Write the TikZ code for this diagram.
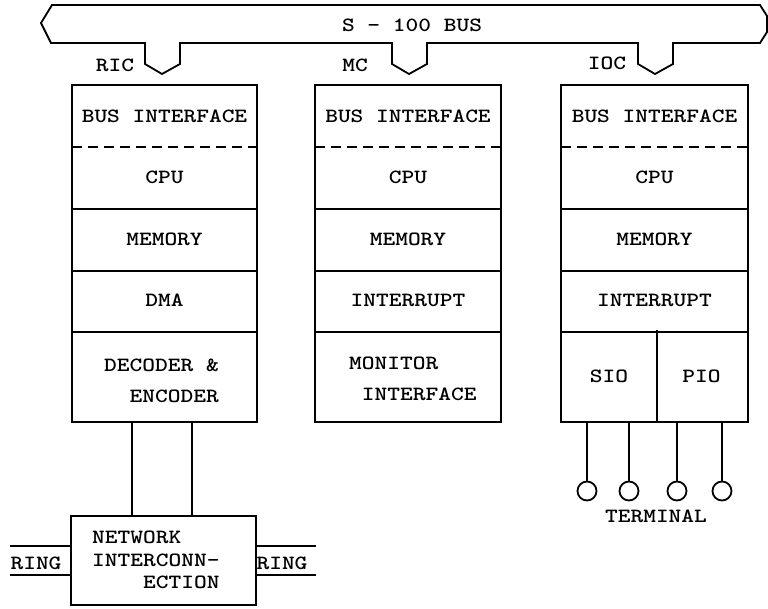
\documentclass[tikz,border=0pt]{standalone}
\usepackage{fontspec}
\setmonofont{lmmonolt10-bold.otf}[FakeStretch=1.2]
\usetikzlibrary{positioning}

\tikzset{
  cell/.style={inner sep=0pt, minimum width=#1},
  rowline/.style={line width=1.6pt},
  halfline/.style={line width=1.6pt, dash pattern=on 10pt off 6pt},
  term/.style={circle, draw, line width=1.8pt, minimum size=19pt, inner sep=0pt},
}

\begin{document}
\begin{tikzpicture}[x=1pt, y=-1pt, line width=1.8pt,
    font=\ttfamily\fontsize{20.2}{24}\selectfont]
  \useasboundingbox (0,0) rectangle (768,609);
  % S-100 bus with its three taps
  \draw (52,5) -- (760,5) -- (767,16) -- (767,32) -- (760,43)
    foreach \c in {655,409,162} { -- (\c+18,43) -- (\c+18,64) -- (\c,74) -- (\c-17,64) -- (\c-17,43) }
    -- (51,43) -- (41,23) -- cycle;
  \node (bus) at (412,25) {S - 100 BUS};
  \node (ric) at (115,65) {RIC};
  \node (mc) at (355,65) {MC};
  \node (ioc) at (607,63) {IOC};

  % the three cards
  \foreach \nm/\cx/\w/\rowd in {ric/164.5/183/DMA, mc/408/184/INTERRUPT, ioc/654.5/185/INTERRUPT} {
    \node[cell=\w, minimum height=60] (\nm-bus) at (\cx,116) {BUS INTERFACE};
    \node[cell=\w, minimum height=62] (\nm-cpu) at (\cx,177) {CPU};
    \node[cell=\w, minimum height=62] (\nm-mem) at (\cx,239) {MEMORY};
    \node[cell=\w, minimum height=61] (\nm-ctl) at (\cx,300.5) {\rowd};
    \coordinate (\nm-foot) at (\cx,422);
    \draw (\nm-bus.north west) rectangle (\nm-ctl.east |- \nm-foot);
    \draw[halfline] (\nm-bus.south west) -- (\nm-bus.south east);
    \draw[rowline] (\nm-cpu.south west) -- (\nm-cpu.south east);
    \draw[rowline] (\nm-mem.south west) -- (\nm-mem.south east);
    \draw[rowline] (\nm-ctl.south west) -- (\nm-ctl.south east);
  }
  \node[align=left, anchor=west] (ric-low) at (100,380.5) {DECODER \&\\[7pt]\phantom{XX}ENCODER};
  \node[align=left, anchor=west] (mc-low) at (345,378.5) {MONITOR\\[7pt]\phantom{X}INTERFACE};
  \node[cell=94, minimum height=91] (sio) at (609,376.5) {SIO};
  \node[cell=91, minimum height=91] (pio) at (701.5,376.5) {PIO};
  \draw[rowline] (sio.north east) -- (sio.south east);

  % terminals
  \foreach \i/\tx in {1/587, 2/629, 3/677, 4/722} {
    \node[term] (t\i) at (\tx,491) {};
    \draw (t\i.north) -- (t\i.north |- ioc-foot);
  }
  \node (terminal) at (656,516) {TERMINAL};

  % ring interconnection
  \node[draw, minimum width=185, minimum height=89, inner sep=0pt] (net) at (163.5,560.5) {};
  \node[align=left, anchor=west] (net-txt) at (88,560) {NETWORK\\[-1.5pt]INTERCONN-\\[-1.5pt]\phantom{XXXX}ECTION};
  \draw (net.north -| 132,0) -- (ric-foot -| 132,0);
  \draw (net.north -| 192,0) -- (ric-foot -| 192,0);
  \foreach \ry in {546,575} {
    \draw (net.west |- 0,\ry) -- ++(-60,0);
    \draw (net.east |- 0,\ry) -- ++(59,0);
  }
  \node (ring-l) at (36,563) {RING};
  \node (ring-r) at (282,563) {RING};
\end{tikzpicture}
\end{document}
